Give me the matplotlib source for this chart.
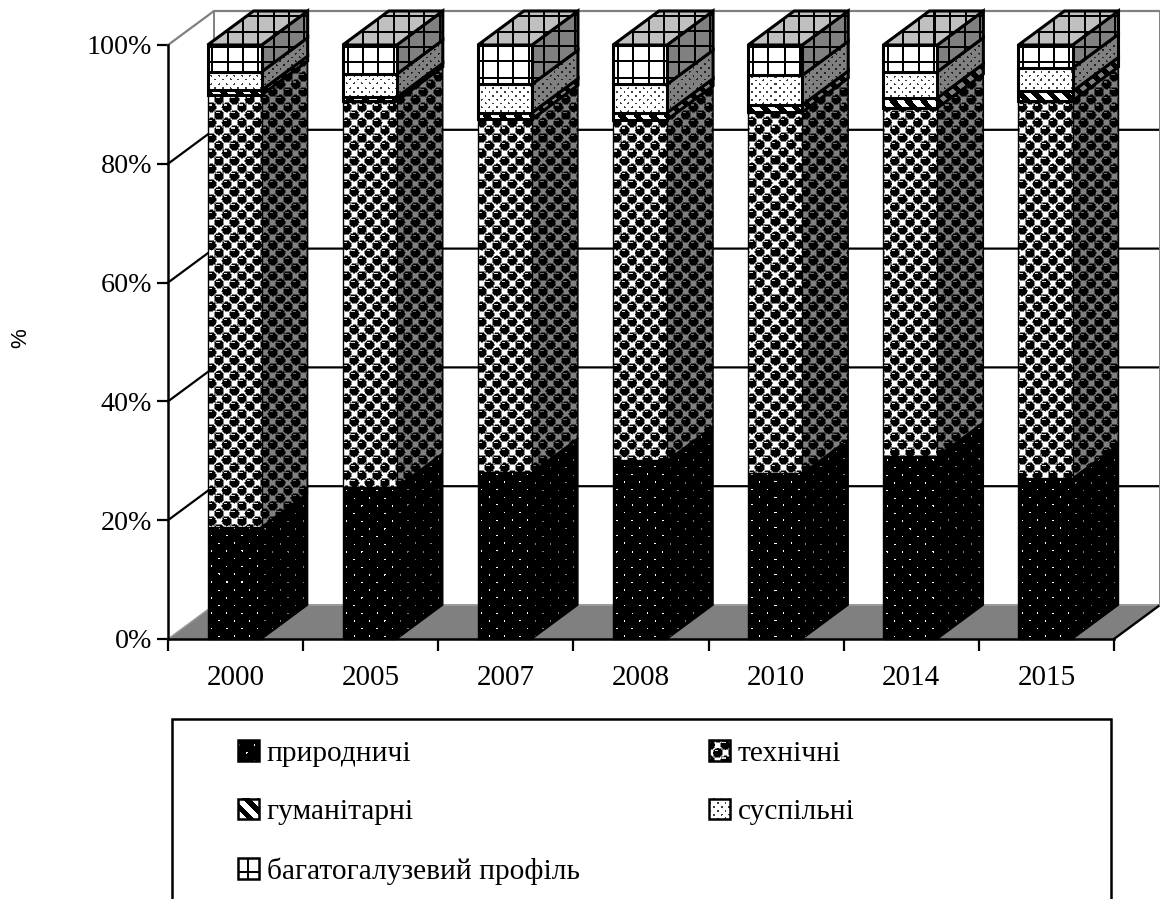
import numpy as np
import matplotlib
matplotlib.use("Agg")
import matplotlib.pyplot as plt
from matplotlib.image import BboxImage
from matplotlib.legend_handler import HandlerBase
from matplotlib.patches import Patch, Polygon, Rectangle
from matplotlib.transforms import Bbox, TransformedBbox

years = ["2000", "2005", "2007", "2008", "2010", "2014", "2015"]
natural = [18.9, 25.6, 28.1, 30.1, 27.9, 30.8, 27.1]
technical = [72.7, 65.0, 59.4, 57.3, 60.8, 58.6, 63.5]
humanities = [0.8, 0.6, 1.1, 1.2, 1.2, 1.7, 1.6]
social = [3.1, 3.9, 4.8, 4.8, 5.0, 4.4, 3.9]
multi = [4.5, 4.9, 6.6, 6.6, 5.1, 4.5, 3.9]
series_names = ["природничі", "технічні", "гуманітарні", "суспільні", "багатогалузевий профіль"]
y_ticks = [0, 20, 40, 60, 80, 100]

W, H = 1160, 899
PERIOD = 15.33
FRONT, SIDE, TOP = 1.0, 0.5, 0.75
BAR_W = 0.40
BAR_SHIFT = -0.007
DX = 46 / (946 / 7)   # depth in category units
DY = 34 / 5.94        # depth in percent units

plt.rcParams["font.family"] = ["Liberation Serif", "DejaVu Serif"]
fig = plt.figure(figsize=(W / 100, H / 100), dpi=100, facecolor="white")
ax = fig.add_axes([168 / W, (H - 639) / H, 946 / W, 594 / H])
ax.patch.set_visible(False)


def nearest(x, y, p):
    # offset to the closest point of a staggered lattice
    ax_, ay_ = (x + p / 2) % p - p / 2, (y + p / 2) % p - p / 2
    bx_, by_ = x % p - p / 2, y % p - p / 2
    use_a = np.hypot(ax_, ay_) <= np.hypot(bx_, by_)
    return np.where(use_a, ax_, bx_), np.where(use_a, ay_, by_)


def texture(kind, x, y):
    if kind == 0:
        dx, dy = nearest(x, y, PERIOD)
        t = np.zeros_like(x)
        t[np.hypot(dx, dy) < 0.75] = 1.0
    elif kind == 1:
        dx, dy = nearest(x, y, PERIOD)
        d = np.hypot(dx, dy)
        t = np.ones_like(x)
        t[d < 5.3] = 0.5
        t[d < 4.4] = 0.0
        t[(dx > -3) & (dx < 0.5) & (dy > -3) & (dy < -1.8)] = 0.85
    elif kind == 2:
        t = np.where((x - y) % PERIOD < PERIOD / 2, 1.0, 0.0)
    elif kind == 3:
        dx, dy = nearest(x, y, PERIOD / 2)
        t = np.ones_like(x)
        t[np.hypot(dx, dy) < 1.0] = 0.25
    else:
        t = np.where((x % PERIOD < 2) | (y % PERIOD < 2), 0.0, 1.0)
    return t


def face(verts, kind, shade, phase, z, lw=1.8):
    poly = Polygon(verts, closed=True, facecolor="none", edgecolor="black", lw=lw,
                   joinstyle="miter", clip_on=False, zorder=z + 0.5)
    ax.add_patch(poly)
    px = ax.transData.transform(verts)
    x0, x1 = int(np.floor(px[:, 0].min())), int(np.ceil(px[:, 0].max()))
    y0, y1 = int(np.floor(px[:, 1].min())), int(np.ceil(px[:, 1].max()))
    xx, yy = np.meshgrid(np.arange(x0, x1) + 0.5, H - (np.arange(y1, y0, -1) - 0.5))
    data = texture(kind, xx - phase, yy) * shade
    (dl, db), (dr, dt) = ax.transData.inverted().transform([(x0, y0), (x1, y1)])
    im = ax.imshow(data, cmap="gray", vmin=0, vmax=1, extent=(dl, dr, db, dt), origin="upper",
                   aspect="auto", interpolation="nearest", zorder=z)
    im.set_clip_box(fig.bbox)
    im.set_clip_path(poly)


class SwatchHandler(HandlerBase):
    def __init__(self, kind):
        super().__init__()
        self.kind = kind

    def create_artists(self, legend, orig_handle, xdescent, ydescent, width, height, fontsize, trans):
        box = TransformedBbox(Bbox.from_bounds(-xdescent, -ydescent, width, height), trans)
        im = BboxImage(box, interpolation="nearest", cmap="gray", norm=plt.Normalize(0, 1))
        xx, yy = np.meshgrid(np.arange(21) + 7.0, np.arange(21) + 3.0)
        im.set_data(texture(self.kind, xx, yy))
        frame = Rectangle((-xdescent, -ydescent), width, height, facecolor="none",
                          edgecolor="black", lw=1.8, transform=trans)
        return [im, frame]


ax.set_xlim(-0.5, len(years) - 0.5)
ax.set_ylim(0, 100)
left, right = -0.5, len(years) - 0.5

# floor and walls
GREY = "#808080"
ax.add_patch(Polygon([(left, 0), (left + DX, DY), (right + DX, DY), (right, 0)], closed=True,
                     facecolor=GREY, edgecolor="none", clip_on=False, zorder=1))
ax.plot([left, left + DX], [0, DY], color="#9a9a9a", lw=1, clip_on=False, zorder=2)
ax.plot([left + DX, right + DX], [DY, DY], color="#9a9a9a", lw=1.4, clip_on=False, zorder=2)
ax.plot([right, right + DX], [0, DY], color="black", lw=1.7, clip_on=False, zorder=2)
for v in y_ticks[1:]:
    c = GREY if v == 100 else "black"
    ax.plot([left, left + DX, right + DX], [v, v + DY, v + DY], color=c, lw=1.6, clip_on=False, zorder=2)
ax.plot([left + DX, left + DX], [DY, 100 + DY], color=GREY, lw=1.4, clip_on=False, zorder=2)
ax.plot([right + DX, right + DX], [DY, 100 + DY], color=GREY, lw=1.4, clip_on=False, zorder=2)

# bars
stack = np.array([natural, technical, humanities, social, multi])
tops = np.cumsum(stack, axis=0)
z = 10
for i in range(len(years)):
    x0, x1 = i - BAR_W / 2 + BAR_SHIFT, i + BAR_W / 2 + BAR_SHIFT
    phase = ax.transData.transform((x0, 0))[0] + PERIOD / 4
    bottom = 0.0
    for k in range(len(stack)):
        t = tops[k, i]
        lw = 1.0 if k < 2 else 2.2
        face([(x1, bottom), (x1 + DX, bottom + DY), (x1 + DX, t + DY), (x1, t)], k, SIDE, phase, z, lw)
        face([(x0, bottom), (x1, bottom), (x1, t), (x0, t)], k, FRONT, phase, z + 1, lw)
        z += 2
        bottom = t
    face([(x0, bottom), (x1, bottom), (x1 + DX, bottom + DY), (x0 + DX, bottom + DY)], 4, TOP, phase, z, 2.2)
    z += 2

# axes
for s in ("top", "right"):
    ax.spines[s].set_visible(False)
for s in ("left", "bottom"):
    ax.spines[s].set_linewidth(1.8)
    ax.spines[s].set_zorder(z + 5)
ax.set_yticks(y_ticks)
ax.set_yticklabels([f"{v}%" for v in y_ticks], fontsize=20.2)
ax.tick_params(axis="y", length=8, width=1.6, pad=3.5)
ax.set_xticks(np.arange(len(years) + 1) - 0.5)
ax.set_xticklabels([])
ax.tick_params(axis="x", which="major", length=8.6, width=1.6)
ax.set_xticks(np.arange(len(years)), minor=True)
ax.set_xticklabels(years, minor=True, fontsize=21)
ax.tick_params(axis="x", which="minor", length=0, pad=18.5)

fig.text(21 / W, (H - 338) / H, "%", rotation=90, ha="center", va="center", fontsize=16,
         family="Liberation Sans")

# legend
fig.add_artist(Rectangle((172 / W, -10 / H), 939 / W, (H - 719 + 10) / H, transform=fig.transFigure,
                         facecolor="white", edgecolor="black", lw=1.8, zorder=3))
handles = [Patch(label=n) for n in series_names]
order = [0, 2, 4, 1, 3]
leg = fig.legend(handles=[handles[i] for i in order], ncols=2, loc="upper left",
                 bbox_to_anchor=(238 / W, (H - 740) / H), frameon=False, fontsize=21.2,
                 borderpad=0, borderaxespad=0, handlelength=0.71, handleheight=0.71,
                 handletextpad=0.27, labelspacing=1.085, columnspacing=4.39,
                 handler_map={handles[i]: SwatchHandler(i) for i in range(5)})
leg.set_zorder(4)

fig.savefig("out.png", dpi=100, facecolor="white")
